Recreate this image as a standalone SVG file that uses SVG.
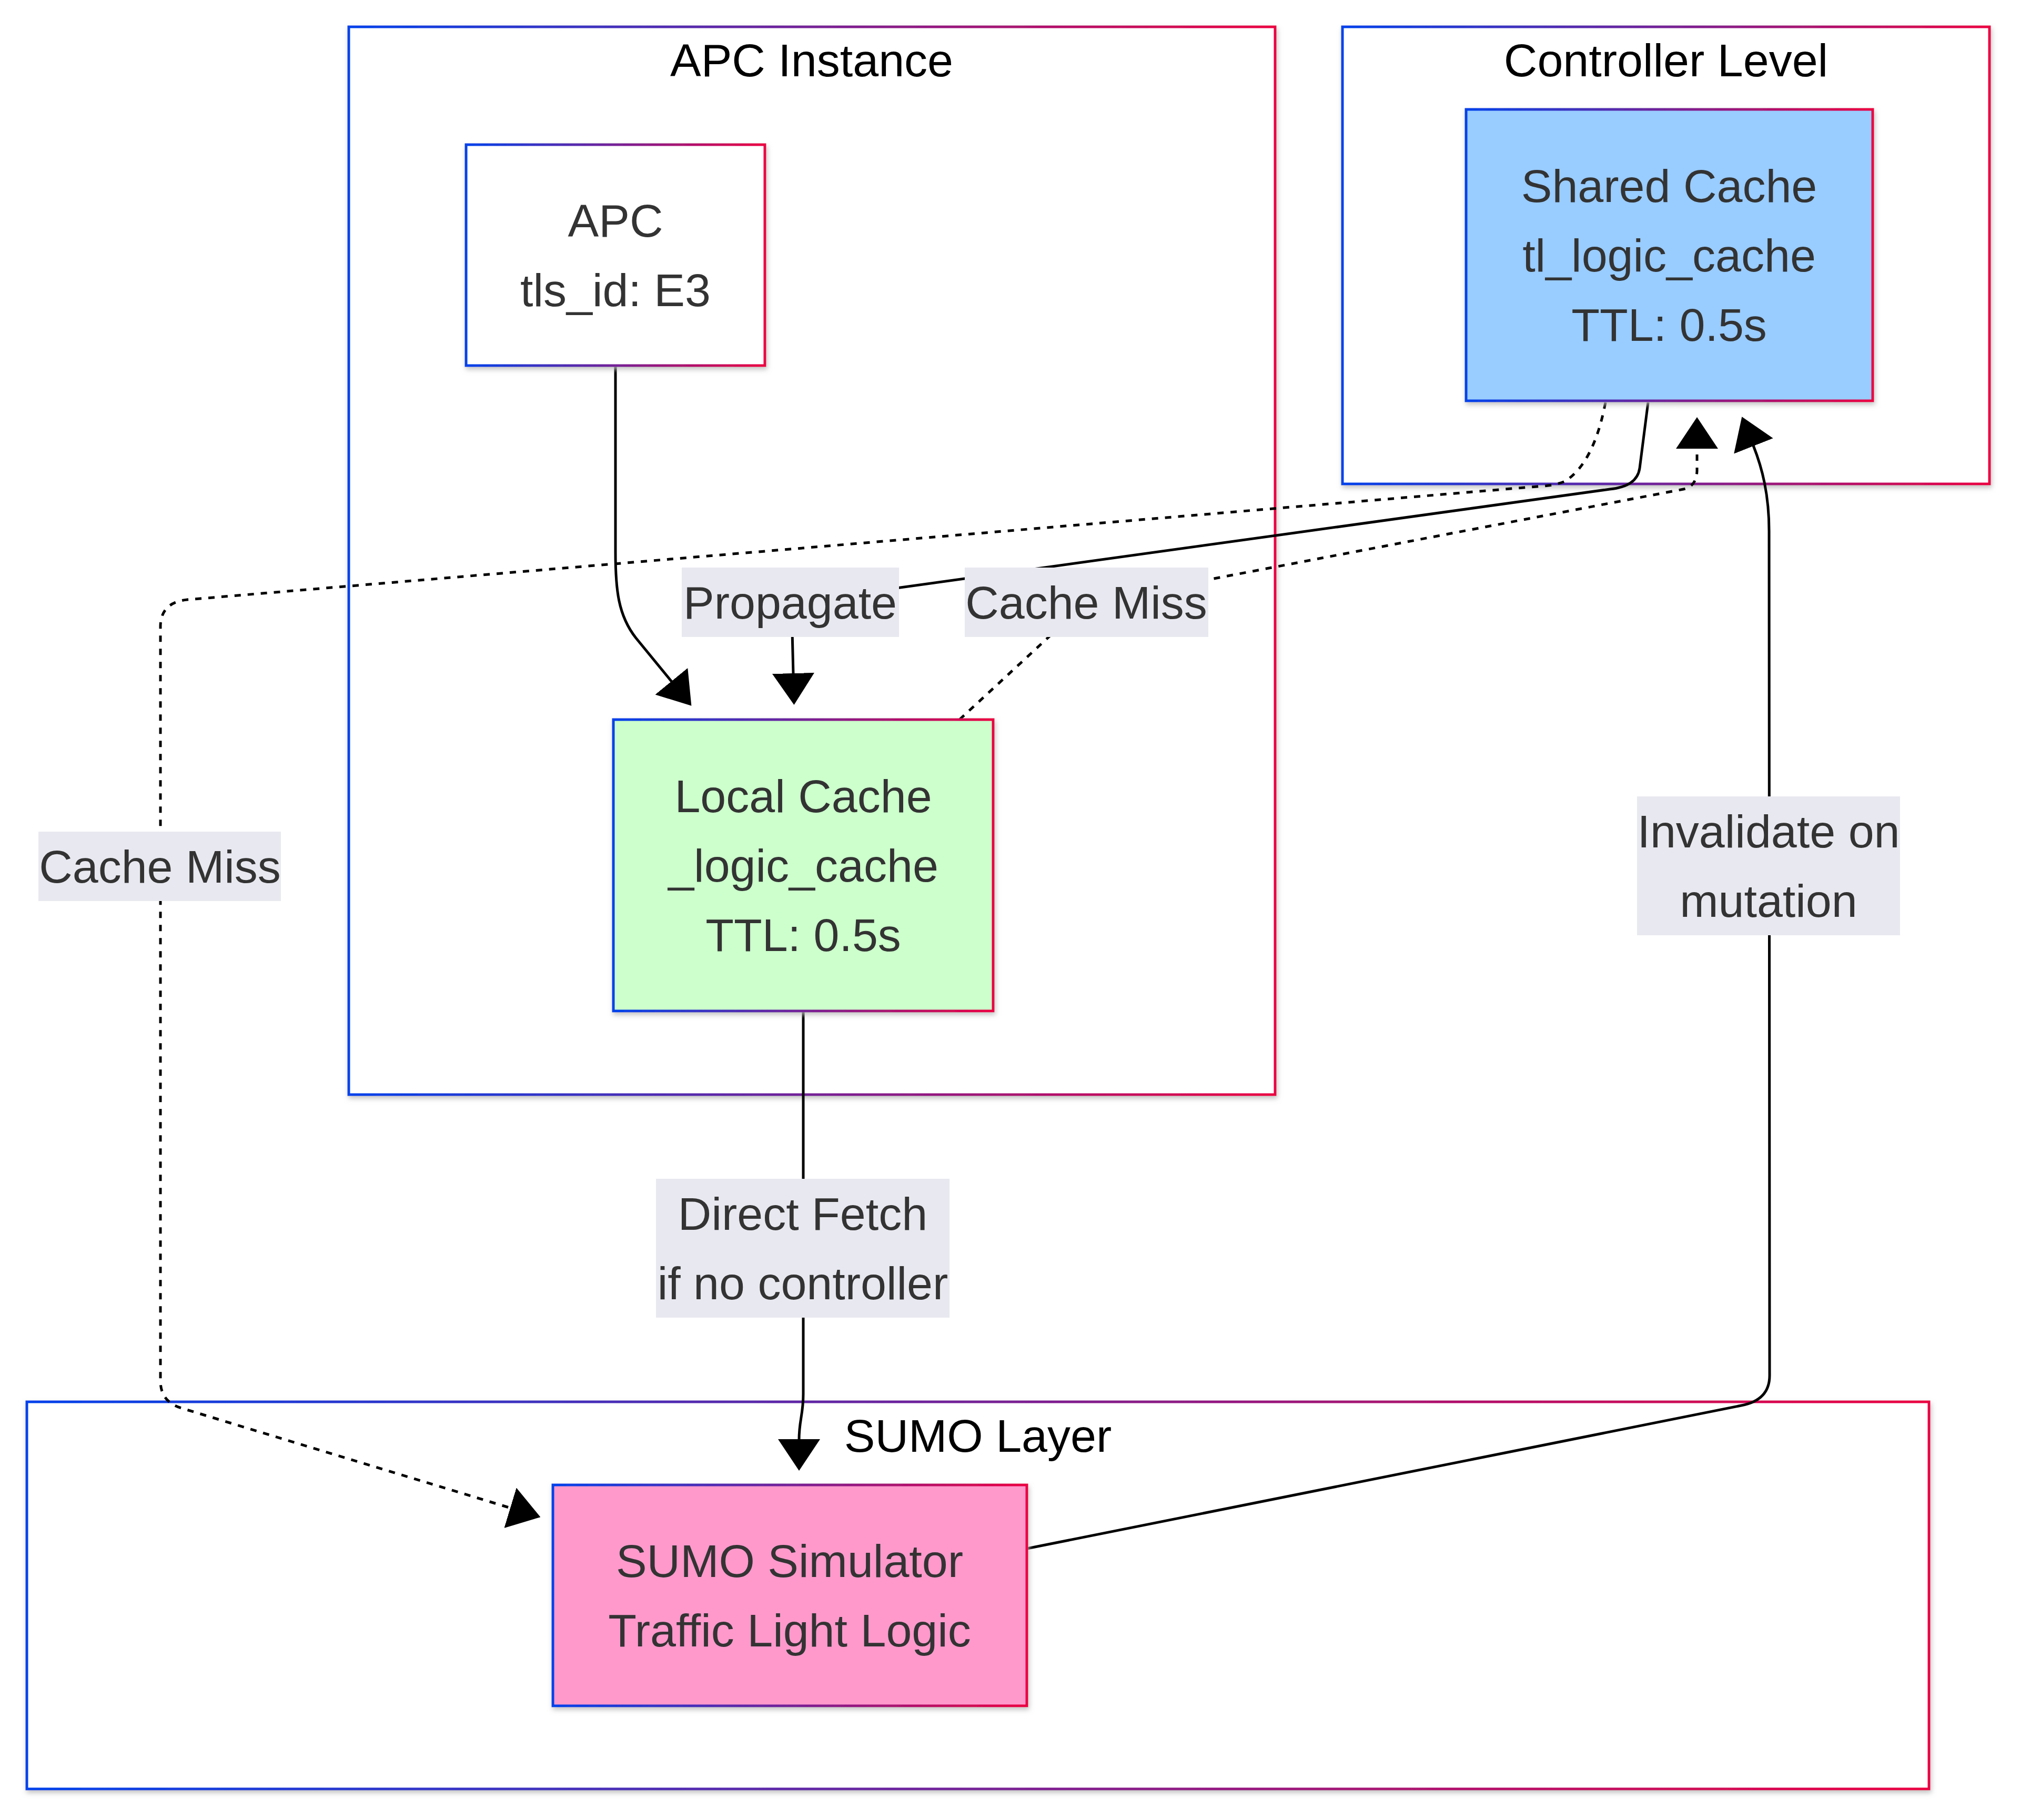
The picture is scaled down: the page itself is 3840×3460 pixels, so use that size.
<svg xmlns="http://www.w3.org/2000/svg" width="3840" height="3460" viewBox="0 0 3840 3460">
<defs>
<linearGradient id="grad" x1="0" y1="0" x2="1" y2="0">
<stop offset="0" stop-color="#0042eb"/>
<stop offset="1" stop-color="#eb0042"/>
</linearGradient>
<filter id="shadow" x="-10%" y="-10%" width="120%" height="120%">
<feDropShadow dx="2" dy="5" stdDeviation="5" flood-color="#b9b9b9" flood-opacity="0.85"/>
</filter>
<marker id="arrow" markerUnits="userSpaceOnUse" viewBox="0 0 60 80" markerWidth="60" markerHeight="80" refX="1" refY="40" orient="auto">
<path d="M0,0 L60,40 L0,80 z" fill="#000"/>
</marker>
<style>
.cluster rect{fill:#fff;stroke:url(#grad);stroke-width:5;filter:url(#shadow)}
.cluster text{font-family:"Liberation Sans",Arial,Helvetica,sans-serif;font-size:88px;fill:#000;text-anchor:middle}
.node rect{stroke:url(#grad);stroke-width:5;filter:url(#shadow)}
.node text,.elabel text{font-family:"Liberation Sans",Arial,Helvetica,sans-serif;font-size:88px;fill:#333;text-anchor:middle}
.edge{fill:none;stroke:#000;stroke-width:5;marker-end:url(#arrow)}
.dotted{stroke-dasharray:12 13}
.elabel rect{fill:#e8e8f0}
</style>
</defs>
<rect width="3840" height="3460" fill="#fff"/>

<g id="cluster-apc-instance" class="cluster">
<rect x="663" y="51" width="1761" height="2030"/>
<text x="1543" y="145">APC Instance</text>
</g>
<g id="cluster-controller-level" class="cluster">
<rect x="2552" y="51" width="1230" height="869"/>
<text x="3167" y="145">Controller Level</text>
</g>
<g id="cluster-sumo-layer" class="cluster">
<rect x="51" y="2665" width="3616" height="736"/>
<text x="1859" y="2760">SUMO Layer</text>
</g>

<g id="connectors">
<path class="edge" d="M1170,697 L1170,1050 C1170,1120 1175,1170 1209,1213 L1277,1296"/>
<path class="edge" d="M3133,765 L3117,890 Q3112,925 3060,930 L1560,1138 Q1505,1146 1506,1200 L1508,1281"/>
<path class="edge dotted" d="M1824,1368 L2065,1145 L2297,1102 L3200,930 Q3225,925 3226,895 L3226,852"/>
<path class="edge dotted" d="M3052,765 Q3030,880 2975,915 Q2955,923 2932,924 L356,1140 Q306,1145 305,1190 L305,2625 Q305,2665 345,2677 L971,2867"/>
<path class="edge" d="M1527,1922 L1527,2650 C1527,2690 1519,2700 1519,2737"/>
<path class="edge" d="M1952,2944 L3310,2672 Q3364,2662 3364,2615 L3363,1010 C3363,940 3350,890 3333,847"/>
</g>

<g id="edge-labels">
<g class="elabel"><rect x="1296" y="1079" width="413" height="132"/><text x="1502" y="1176">Propagate</text></g>
<g class="elabel"><rect x="1834" y="1079" width="463" height="132"/><text x="2065" y="1176">Cache Miss</text></g>
<g class="elabel"><rect x="73" y="1581" width="461" height="132"/><text x="304" y="1678">Cache Miss</text></g>
<g class="elabel"><rect x="1247" y="2241" width="558" height="264"/><text x="1526" y="2338">Direct Fetch</text><text x="1526" y="2470">if no controller</text></g>
<g class="elabel"><rect x="3112" y="1514" width="500" height="264"/><text x="3362" y="1611">Invalidate on</text><text x="3362" y="1743">mutation</text></g>
</g>

<g id="node-apc" class="node">
<rect x="886" y="275" width="568" height="420" fill="#fff"/>
<text x="1170" y="450">APC</text>
<text x="1170" y="582">tls_id: E3</text>
</g>
<g id="node-shared-cache" class="node">
<rect x="2787" y="208" width="773" height="554" fill="#99ccff"/>
<text x="3173" y="384">Shared Cache</text>
<text x="3173" y="516">tl_logic_cache</text>
<text x="3173" y="648">TTL: 0.5s</text>
</g>
<g id="node-local-cache" class="node">
<rect x="1166" y="1368" width="722" height="554" fill="#ccffcc"/>
<text x="1527" y="1544">Local Cache</text>
<text x="1527" y="1676">_logic_cache</text>
<text x="1527" y="1808">TTL: 0.5s</text>
</g>
<g id="node-sumo-simulator" class="node">
<rect x="1051" y="2823" width="901" height="420" fill="#ff99cc"/>
<text x="1501" y="2998">SUMO Simulator</text>
<text x="1501" y="3130">Traffic Light Logic</text>
</g>
</svg>
